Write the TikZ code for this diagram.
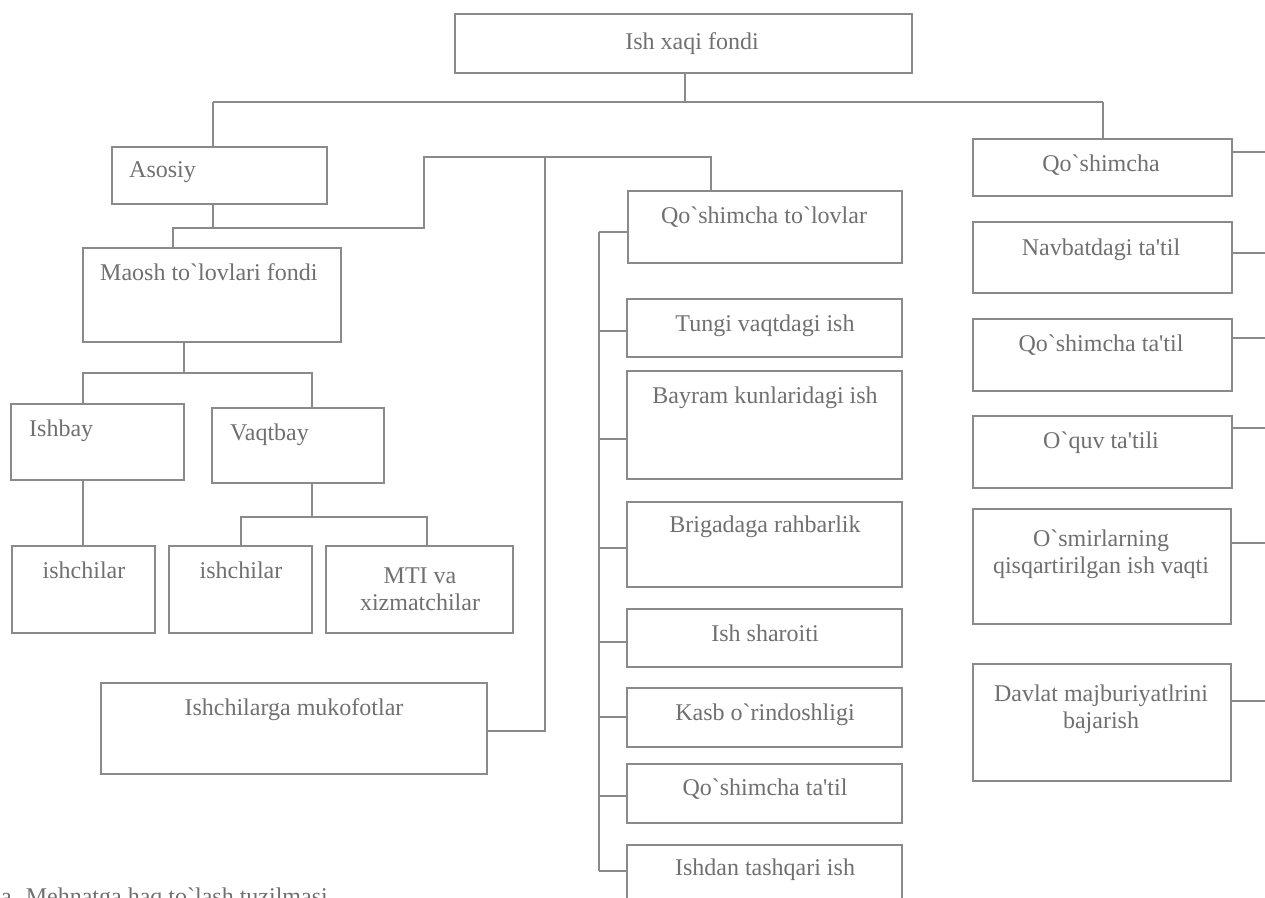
\documentclass[tikz,border=0pt]{standalone}
\usetikzlibrary{fit}
\font\lbs="Liberation Serif" at 24pt
\definecolor{ln}{RGB}{138,138,138}
\definecolor{tx}{RGB}{112,112,112}
\begin{document}
\begin{tikzpicture}[x=1pt,y=-1pt,
  box/.style={draw=ln, line width=1.5pt, inner sep=0pt},
  conn/.style={draw=ln, line width=1.3pt},
  txt/.style={text=tx, font=\lbs, inner sep=0pt, anchor=mid, yshift=-6pt},
  ltxt/.style={text=tx, font=\lbs, inner sep=0pt, anchor=mid west, yshift=-6pt},
  mtxt/.style={text=tx, font={\lbs\baselineskip=27.5pt}, inner sep=0pt, align=center, yshift=-5pt}]
\useasboundingbox[fill=white] (0,0) rectangle (1265,897);

% boxes
\node[box, fit={(455,14) (912,73)}] (top) {};
\node[box, fit={(112,147) (327,204)}] (aso) {};
\node[box, fit={(83,248) (341,342)}] (mao) {};
\node[box, fit={(11,404) (184,480)}] (ishb) {};
\node[box, fit={(212,408) (384,483)}] (vaqt) {};
\node[box, fit={(12,546) (155,633)}] (ish1) {};
\node[box, fit={(169,546) (312,633)}] (ish2) {};
\node[box, fit={(326,546) (513,633)}] (mti) {};
\node[box, fit={(101,683) (487,774)}] (muk) {};
\node[box, fit={(628,191) (902,263)}] (qto) {};
\node[box, fit={(627,299) (902,357)}] (tun) {};
\node[box, fit={(627,371) (902,479)}] (bay) {};
\node[box, fit={(627,502) (902,587)}] (bri) {};
\node[box, fit={(627,609) (902,667)}] (sha) {};
\node[box, fit={(627,688) (902,747)}] (kas) {};
\node[box, fit={(627,764) (902,823)}] (qtt) {};
\node[box, fit={(627,845) (902,930)}] (ishd) {};
\node[box, fit={(973,139) (1232,196)}] (qo) {};
\node[box, fit={(973,222) (1232,293)}] (nav) {};
\node[box, fit={(973,319) (1232,391)}] (qta) {};
\node[box, fit={(973,416) (1232,488)}] (oqu) {};
\node[box, fit={(973,509) (1231,624)}] (osm) {};
\node[box, fit={(973,664) (1231,781)}] (dav) {};

% texts
\node[txt] (ttop) at (692,41) {Ish xaqi fondi};
\node[ltxt] (taso) at (129,169) {Asosiy};
\node[ltxt] (tmao) at (100,272) {Maosh to`lovlari fondi};
\node[ltxt] (tishb) at (29,428) {Ishbay};
\node[ltxt] (tvaqt) at (230,432) {Vaqtbay};
\node[txt] (tish1) at (84,570) {ishchilar};
\node[txt] (tish2) at (241,570) {ishchilar};
\node[mtxt] (tmti) at (420,584) {MTI va\\xizmatchilar};
\node[txt] (tmuk) at (294,707) {Ishchilarga mukofotlar};
\node[txt] (tqto) at (764,215) {Qo`shimcha to`lovlar};
\node[txt] (ttun) at (765,323) {Tungi vaqtdagi ish};
\node[txt] (tbay) at (765,395) {Bayram kunlaridagi ish};
\node[txt] (tbri) at (765,524) {Brigadaga rahbarlik};
\node[txt] (tsha) at (765,633) {Ish sharoiti};
\node[txt] (tkas) at (765,712) {Kasb o`rindoshligi};
\node[txt] (tqtt) at (765,787) {Qo`shimcha ta'til};
\node[txt] (tishd) at (765,867) {Ishdan tashqari ish};
\node[txt] (tqo) at (1101,163) {Qo`shimcha};
\node[txt] (tnav) at (1101,247) {Navbatdagi ta'til};
\node[txt] (tqta) at (1101,343) {Qo`shimcha ta'til};
\node[txt] (toqu) at (1101,440) {O`quv ta'tili};
\node[mtxt] (tosm) at (1101,549) {O`smirlarning\\qisqartirilgan ish vaqti};
\node[mtxt] (tdav) at (1101,704) {Davlat majburiyatlrini\\bajarish};
\node[text=tx, font=\lbs, inner sep=0pt, anchor=base west] (cap) at (1,904) {a. Mehnatga haq to`lash tuzilmasi};

% junctions
\coordinate (j0) at (685,102);
\coordinate (jl) at (213,102);
\coordinate (jr) at (1103,102);
\coordinate (a1) at (213,228);
\coordinate (a2) at (173,228);
\coordinate (a3) at (424,228);
\coordinate (a4) at (424,157);
\coordinate (a5) at (545,157);
\coordinate (a6) at (711,157);
\coordinate (a7) at (545,731);
\coordinate (m1) at (184,373);
\coordinate (m2) at (83,373);
\coordinate (m3) at (312,373);
\coordinate (v1) at (312,517);
\coordinate (v2) at (241,517);
\coordinate (v3) at (427,517);
\coordinate (c0) at (599,232);
\coordinate (c1) at (599,871);
\coordinate (b1) at (599,331);
\coordinate (b2) at (599,439);
\coordinate (b3) at (599,548);
\coordinate (b4) at (599,642);
\coordinate (b5) at (599,717);
\coordinate (b6) at (599,796);
\coordinate (rqo) at (1265,152);
\coordinate (rnav) at (1265,253);
\coordinate (rqta) at (1265,338);
\coordinate (roqu) at (1265,428);
\coordinate (rosm) at (1265,543);
\coordinate (rdav) at (1265,701);

% connectors
\draw[conn] (top.south -| j0) -- (j0);
\draw[conn] (jl) -- (jr);
\draw[conn] (jl) -- (aso.north -| jl);
\draw[conn] (jr) -- (qo.north -| jr);
\draw[conn] (aso.south -| a1) -- (a1);
\draw[conn] (mao.north -| a2) -- (a2) -- (a3) -- (a4) -- (a6) -- (qto.north -| a6);
\draw[conn] (a5) -- (a7) -- (muk.east |- a7);
\draw[conn] (mao.south -| m1) -- (m1);
\draw[conn] (ishb.north -| m2) -- (m2) -- (m3) -- (vaqt.north -| m3);
\draw[conn] (ishb.south -| m2) -- (ish1.north -| m2);
\draw[conn] (vaqt.south -| v1) -- (v1);
\draw[conn] (ish2.north -| v2) -- (v2) -- (v3) -- (mti.north -| v3);
\draw[conn] (c0) -- (c1);
\draw[conn] (c0) -- (qto.west |- c0);
\draw[conn] (b1) -- (tun.west |- b1);
\draw[conn] (b2) -- (bay.west |- b2);
\draw[conn] (b3) -- (bri.west |- b3);
\draw[conn] (b4) -- (sha.west |- b4);
\draw[conn] (b5) -- (kas.west |- b5);
\draw[conn] (b6) -- (qtt.west |- b6);
\draw[conn] (c1) -- (ishd.west |- c1);
\draw[conn] (qo.east |- rqo) -- (rqo);
\draw[conn] (nav.east |- rnav) -- (rnav);
\draw[conn] (qta.east |- rqta) -- (rqta);
\draw[conn] (oqu.east |- roqu) -- (roqu);
\draw[conn] (osm.east |- rosm) -- (rosm);
\draw[conn] (dav.east |- rdav) -- (rdav);
\end{tikzpicture}
\end{document}
